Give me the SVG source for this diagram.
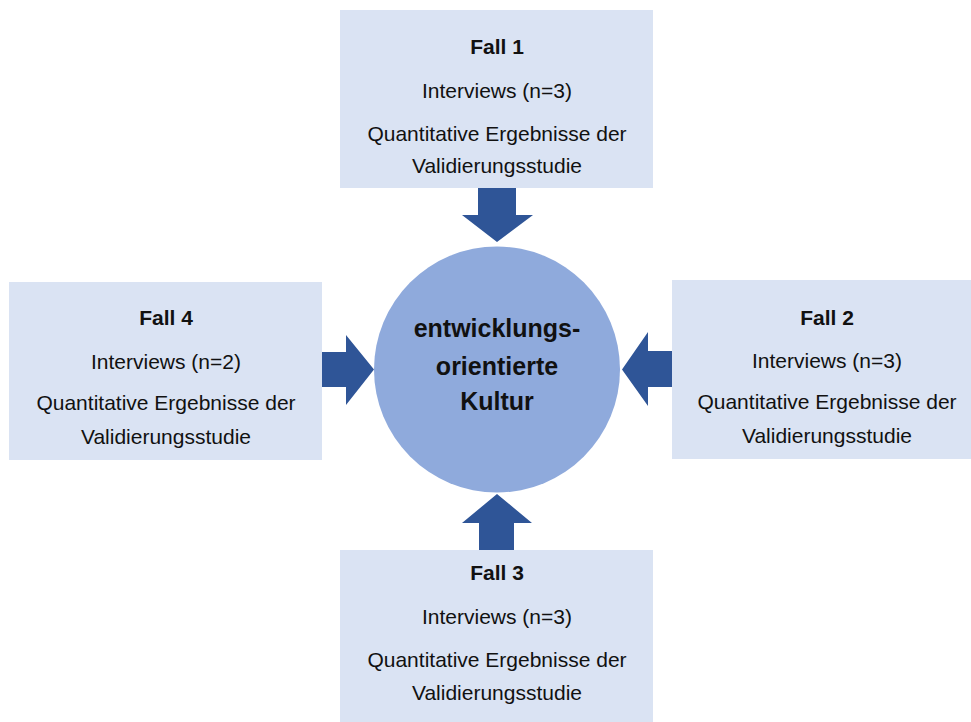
<svg xmlns="http://www.w3.org/2000/svg" width="971" height="722" viewBox="0 0 971 722">
<style>
.box{fill:#DAE3F3;}
.t{font-family:"Liberation Sans",Arial,sans-serif;font-size:21px;fill:#111;text-anchor:middle;}
.b{font-weight:bold;}
.c{font-family:"Liberation Sans",Arial,sans-serif;font-size:25px;font-weight:bold;fill:#111;text-anchor:middle;}
.arr{fill:#2F5597;}
</style>
<rect width="971" height="722" fill="#ffffff"/>
<g id="fall1">
<rect class="box" x="340" y="10" width="313" height="178"/>
<text class="t b" x="497" y="54">Fall 1</text>
<text class="t" x="497" y="98">Interviews (n=3)</text>
<text class="t" x="497" y="141">Quantitative Ergebnisse der</text>
<text class="t" x="497" y="173">Validierungsstudie</text>
</g>
<g id="fall4">
<rect class="box" x="9" y="282" width="313" height="178"/>
<text class="t b" x="166" y="325">Fall 4</text>
<text class="t" x="166" y="369">Interviews (n=2)</text>
<text class="t" x="166" y="410">Quantitative Ergebnisse der</text>
<text class="t" x="166" y="444">Validierungsstudie</text>
</g>
<g id="fall2">
<rect class="box" x="672" y="280" width="299" height="179"/>
<text class="t b" x="827" y="325">Fall 2</text>
<text class="t" x="827" y="368">Interviews (n=3)</text>
<text class="t" x="827" y="409">Quantitative Ergebnisse der</text>
<text class="t" x="827" y="443">Validierungsstudie</text>
</g>
<g id="fall3">
<rect class="box" x="340" y="550" width="313" height="172"/>
<text class="t b" x="497" y="580">Fall 3</text>
<text class="t" x="497" y="624">Interviews (n=3)</text>
<text class="t" x="497" y="667">Quantitative Ergebnisse der</text>
<text class="t" x="497" y="700">Validierungsstudie</text>
</g>
<g id="center">
<circle cx="497" cy="369.5" r="123" fill="#8FAADC"/>
<text class="c" x="497" y="337">entwicklungs-</text>
<text class="c" x="497" y="375">orientierte</text>
<text class="c" x="497" y="410">Kultur</text>
</g>
<g id="connectors">
<polygon class="arr" points="478,188 516,188 516,215 533,215 497,242 462,215 478,215"/>
<polygon class="arr" points="479,550 514,550 514,523 532,523 497,494 462,523 479,523"/>
<polygon class="arr" points="322,352 346,352 346,335 374,369.5 346,405 346,387 322,387"/>
<polygon class="arr" points="672,351 648,351 648,332 622,369.5 648,406 648,387 672,387"/>
</g>
</svg>
